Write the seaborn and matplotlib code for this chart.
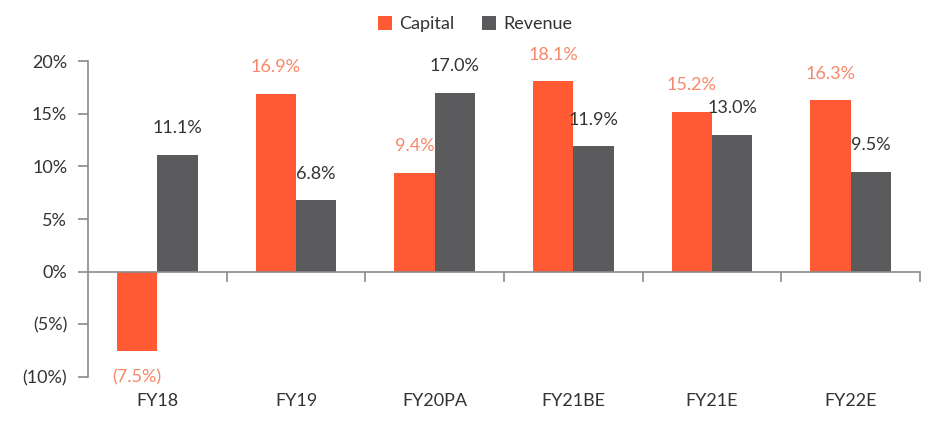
import numpy as np
import pandas as pd
import matplotlib.pyplot as plt
import seaborn as sns

years = ['FY18', 'FY19', 'FY20PA', 'FY21BE', 'FY21E', 'FY22E']
capital = [-7.5, 16.9, 9.4, 18.1, 15.2, 16.3]
revenue = [11.1, 6.8, 17.0, 11.9, 13.0, 9.5]
y_ticks = [-10, -5, 0, 5, 10, 15, 20]
y_labels = ['(10%)', '(5%)', '0%', '5%', '10%', '15%', '20%']

ORANGE = '#FF5A33'
GREY = '#5B5B5D'
ORANGE_TXT = '#F7876A'
TXT = '#333333'
AXIS = '#8A8A8A'


def fmt(v):  # negative values in brackets
    return f'({abs(v):.1f}%)' if v < 0 else f'{v:.1f}%'


def main():
    sns.set_style('white')
    plt.rcParams['font.family'] = ['Lato', 'DejaVu Sans']
    plt.rcParams['font.weight'] = 'normal'

    df = pd.DataFrame({'year': years * 2,
                       'value': capital + revenue,
                       'series': ['Capital'] * len(years) + ['Revenue'] * len(years)})

    fig = plt.figure(figsize=(9.3, 4.21), dpi=100)
    ax = fig.add_axes([88 / 930, 1 - 377 / 421, 832 / 930, 316 / 421])
    sns.barplot(data=df, x='year', y='value', hue='series', palette=[ORANGE, GREY],
                width=0.58, saturation=1, linewidth=0, ax=ax, legend=True)

    ax.set_ylim(-10, 20)
    ax.set_xlim(-0.5, len(years) - 0.5)
    ax.set_yticks(y_ticks)
    ax.set_yticklabels(y_labels)
    ax.set_xlabel('')
    ax.set_ylabel('')
    ax.tick_params(axis='y', left=True, length=7, width=1.2, color=AXIS, labelsize=13,
                   labelcolor=TXT, pad=8)
    ax.tick_params(axis='x', bottom=False, labelsize=13, labelcolor=TXT, pad=8)
    for s in ['top', 'right', 'bottom']:
        ax.spines[s].set_visible(False)
    ax.spines['left'].set_color(AXIS)
    ax.spines['left'].set_linewidth(1.2)

    # zero line with ticks between categories
    sec = ax.secondary_xaxis(1 / 3)
    sec.set_zorder(3)
    sec.set_xticks(np.arange(len(years)) + 0.5)
    sec.set_xticklabels([])
    sec.tick_params(axis='x', direction='out', length=7, width=1.2, color=AXIS)
    sec.spines['bottom'].set_color(AXIS)
    sec.spines['bottom'].set_linewidth(1.2)

    for cont, color in zip(ax.containers, [ORANGE_TXT, TXT]):
        for bar, v in zip(cont, cont.datavalues):
            x = bar.get_x() + bar.get_width() / 2
            off = 19 if v >= 0 else -19
            ax.annotate(fmt(v), (x, v), xytext=(0, off), textcoords='offset points',
                        ha='center', va='center', fontsize=13, color=color)

    ax.legend(loc='upper center', bbox_to_anchor=(475 / 930, 1.0), bbox_transform=fig.transFigure,
              ncol=2, frameon=False, fontsize=13, handlelength=0.8, handleheight=0.8,
              handletextpad=0.4, columnspacing=1.5, labelcolor=TXT)

    fig.savefig('out.png', dpi=100)


if __name__ == '__main__':
    main()
